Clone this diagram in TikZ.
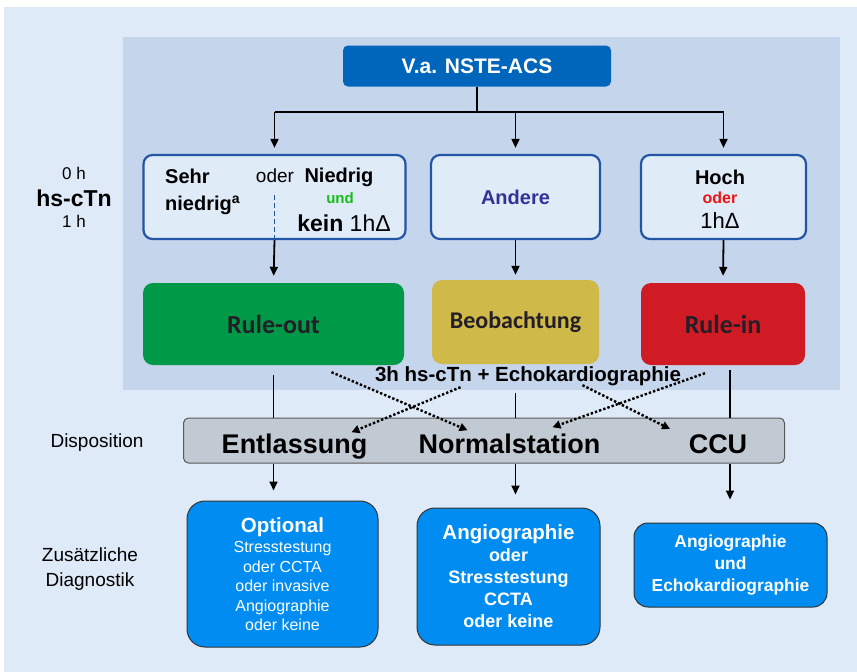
\documentclass[tikz,border=0pt]{standalone}
\usepackage{fontspec}
\setmainfont{Liberation Sans}
\newfontfamily\calib{Carlito}
\usepackage{tikz}
\usetikzlibrary{positioning, arrows.meta}
\definecolor{OuterBlue}{RGB}{222,234,247}
\definecolor{PanelBlue}{RGB}{197,213,236}
\definecolor{HeadBlue}{RGB}{0,102,187}
\definecolor{FrameBlue}{RGB}{35,85,165}
\definecolor{RiskFill}{RGB}{224,235,248}
\definecolor{OutGreen}{RGB}{0,153,72}
\definecolor{ObsYellow}{RGB}{207,185,72}
\definecolor{InRed}{RGB}{208,26,36}
\definecolor{DispoGray}{RGB}{193,201,211}
\definecolor{DiagBlue}{RGB}{0,140,240}
\definecolor{AndereBlue}{RGB}{50,50,150}
\definecolor{UndGreen}{RGB}{20,190,20}
\definecolor{OderRed}{RGB}{235,20,20}
\newcommand{\fs}[2]{\fontsize{#1}{#2}\selectfont}
\tikzset{
  riskbox/.style={draw=FrameBlue, line width=2.2pt, fill=RiskFill, rounded corners=9pt,
    minimum height=84pt, inner sep=0pt},
  resultbox/.style={rounded corners=10pt, minimum height=82pt, inner sep=0pt,
    font=\calib\fs{26}{30}\bfseries, text={rgb,255:red,35;green,30;blue,40}},
  diagbox/.style={draw=black!80, line width=1pt, fill=DiagBlue, text=white, align=center,
    rounded corners=18pt, inner sep=0pt},
  dispotext/.style={anchor=base, inner sep=0pt, font=\fs{27}{30}\bfseries},
  plainline/.style={line width=1.8pt},
  conn/.style={line width=1.8pt, -{Triangle[length=9pt,width=8pt]}},
  dotconn/.style={line width=2.4pt, dash pattern=on 2.4pt off 2pt, -{Triangle[length=8pt,width=8pt]}},
}

\begin{document}
\begin{tikzpicture}[x=1pt, y=-1pt]
  \useasboundingbox (0,0) rectangle (857,672);
  \fill[white] (0,0) rectangle (857,672);
  \fill[OuterBlue] (4,7) rectangle (857,672);
  \fill[PanelBlue] (123,37) rectangle (840,390);

  % side labels
  \node[inner sep=0pt, font=\fs{17}{20}] (zero) at (74,173) {0 h};
  \node[inner sep=0pt, font=\fs{23}{26}\bfseries] (hsctn) at (74,198) {hs-cTn};
  \node[inner sep=0pt, font=\fs{17}{20}] (one) at (74,221) {1 h};
  \node[inner sep=0pt, font=\fs{19}{22}] (disp) at (97,443) {Disposition};
  \node[inner sep=0pt, font=\fs{19}{25}, align=center] (extra) at (90,569) {Zusätzliche\\Diagnostik};

  % top
  \node[fill=HeadBlue, rounded corners=5pt, minimum width=268pt, minimum height=41pt,
    text=white, font=\fs{21}{24}\bfseries] (acs) at (477,66) {V.a. NSTE-ACS};

  % risk boxes (0 h / 1 h)
  \node[riskbox, minimum width=262pt] (low) at (274.5,197) {};
  \node[riskbox, minimum width=169pt, font=\fs{20}{24}\bfseries, text=AndereBlue] (other) at (515.5,197) {Andere};
  \node[riskbox, minimum width=165pt] (high) at (723.5,197) {};

  \node[inner sep=0pt, anchor=west, align=left, font=\fs{20}{27}\bfseries] (verylow) at (165,192)
    {Sehr\\niedrig\textsuperscript{a}};
  \node[inner sep=0pt, font=\fs{19}{22}] (or) at (275,176) {oder};
  \node[inner sep=0pt, font=\fs{20}{24}\bfseries] (lowtxt) at (339,177) {Niedrig};
  \node[inner sep=0pt, font=\fs{15}{18}\bfseries, text=UndGreen] (and) at (340,198) {und};
  \node[inner sep=0pt, font=\fs{23}{26}] (nodelta) at (344,223) {\bfseries kein \mdseries 1hΔ};
  \draw[FrameBlue, line width=1.4pt, dash pattern=on 5pt off 3pt] (low.south) -- ++(0,-48);

  \node[inner sep=0pt, font=\fs{20}{24}\bfseries] (hightxt) at (720,177) {Hoch};
  \node[inner sep=0pt, font=\fs{16}{18}\bfseries, text=OderRed] (or2) at (720,198) {oder};
  \node[inner sep=0pt, font=\fs{22}{26}] (delta) at (720,221) {1hΔ};

  % results
  \node[resultbox, fill=OutGreen, minimum width=261pt] (ruleout) at (273.5,324) {Rule-out};
  \node[resultbox, fill=ObsYellow, minimum width=167pt, minimum height=84pt,
    font=\calib\fs{24}{28}\bfseries] (observe) at (515.5,322) {Beobachtung};
  \node[resultbox, fill=InRed, minimum width=164pt] (rulein) at (723,324) {Rule-in};

  \node[inner sep=0pt, font=\fs{20.5}{24}\bfseries] (followup) at (528,376) {3h hs-cTn + Echokardiographie};

  % disposition
  \node[draw=black!65, line width=1pt, fill=DispoGray, rounded corners=5pt,
    minimum width=601pt, minimum height=45pt] (dispo) at (484,440.5) {};
  \node[dispotext] (home) at (294.5,453) {Entlassung};
  \node[dispotext] (ward) at (509.5,453) {Normalstation};
  \node[dispotext] (ccu) at (718,453) {CCU};

  % diagnostics
  \node[diagbox, minimum width=191pt, minimum height=146pt, font=\fs{16}{19.5}] (diagA) at (282.5,574)
    {{\fs{20.5}{24}\bfseries Optional}\\[1pt]Stresstestung\\oder CCTA\\oder invasive\\Angiographie\\oder keine};
  \node[diagbox, minimum width=183pt, minimum height=137pt, font=\fs{18}{22}\bfseries] (diagB) at (508.5,576.5)
    {{\fs{20.5}{24}\bfseries Angiographie}\\oder\\Stresstestung\\CCTA\\oder keine};
  \node[diagbox, rounded corners=14pt, minimum width=193pt, minimum height=84pt, font=\fs{17.4}{22}\bfseries] (diagC) at (730.5,565)
    {Angiographie\\und\\Echokardiographie};

  % connectors
  \coordinate (split) at (477,112);
  \draw[plainline] (acs.south) -- (split);
  \draw[plainline] (low.north |- split) -- (high.north |- split);
  \draw[conn, shorten >=6pt] (low.north |- split) -- (low.north);
  \draw[conn, shorten >=6pt] (split -| other.north) -- (other.north);
  \draw[conn, shorten >=6pt] (high.north |- split) -- (high.north);

  \draw[conn, shorten >=7pt] (low.south) -- (ruleout.north);
  \draw[conn, shorten >=5pt] (other.south) -- (observe.north);
  \draw[conn, shorten >=7pt] (high.south) -- (rulein.north);

  \draw[plainline] ([yshift=-10pt]ruleout.south) -- (ruleout.south |- dispo.north);
  \draw[plainline] ([yshift=-29pt]observe.south) -- (observe.south |- dispo.north);
  \draw[plainline] ([xshift=7pt,yshift=-5pt]rulein.south) -- ([xshift=7pt]rulein.south |- dispo.north);

  \draw[dotconn] ([xshift=58pt,yshift=-7pt]ruleout.south) -- ([xshift=-42pt,yshift=3pt]ward.north);
  \draw[dotconn] ([xshift=-55pt,yshift=-23pt]observe.south) -- ([xshift=57pt,yshift=1pt]home.north);
  \draw[dotconn] ([xshift=-18pt,yshift=-8pt]rulein.south) -- ([xshift=43pt,yshift=6pt]ward.north);
  \draw[dotconn] ([xshift=67pt,yshift=-21pt]observe.south) -- ([xshift=-48pt,yshift=5pt]ccu.north);

  \draw[conn] (ruleout.south |- dispo.south) -- ([yshift=10pt]ruleout.south |- diagA.north);
  \draw[conn] (observe.south |- dispo.south) -- ([yshift=13pt]observe.south |- diagB.north);
  \draw[conn] ([xshift=7pt]rulein.south |- dispo.south) -- ([xshift=7pt,yshift=23pt]rulein.south |- diagC.north);
\end{tikzpicture}
\end{document}
